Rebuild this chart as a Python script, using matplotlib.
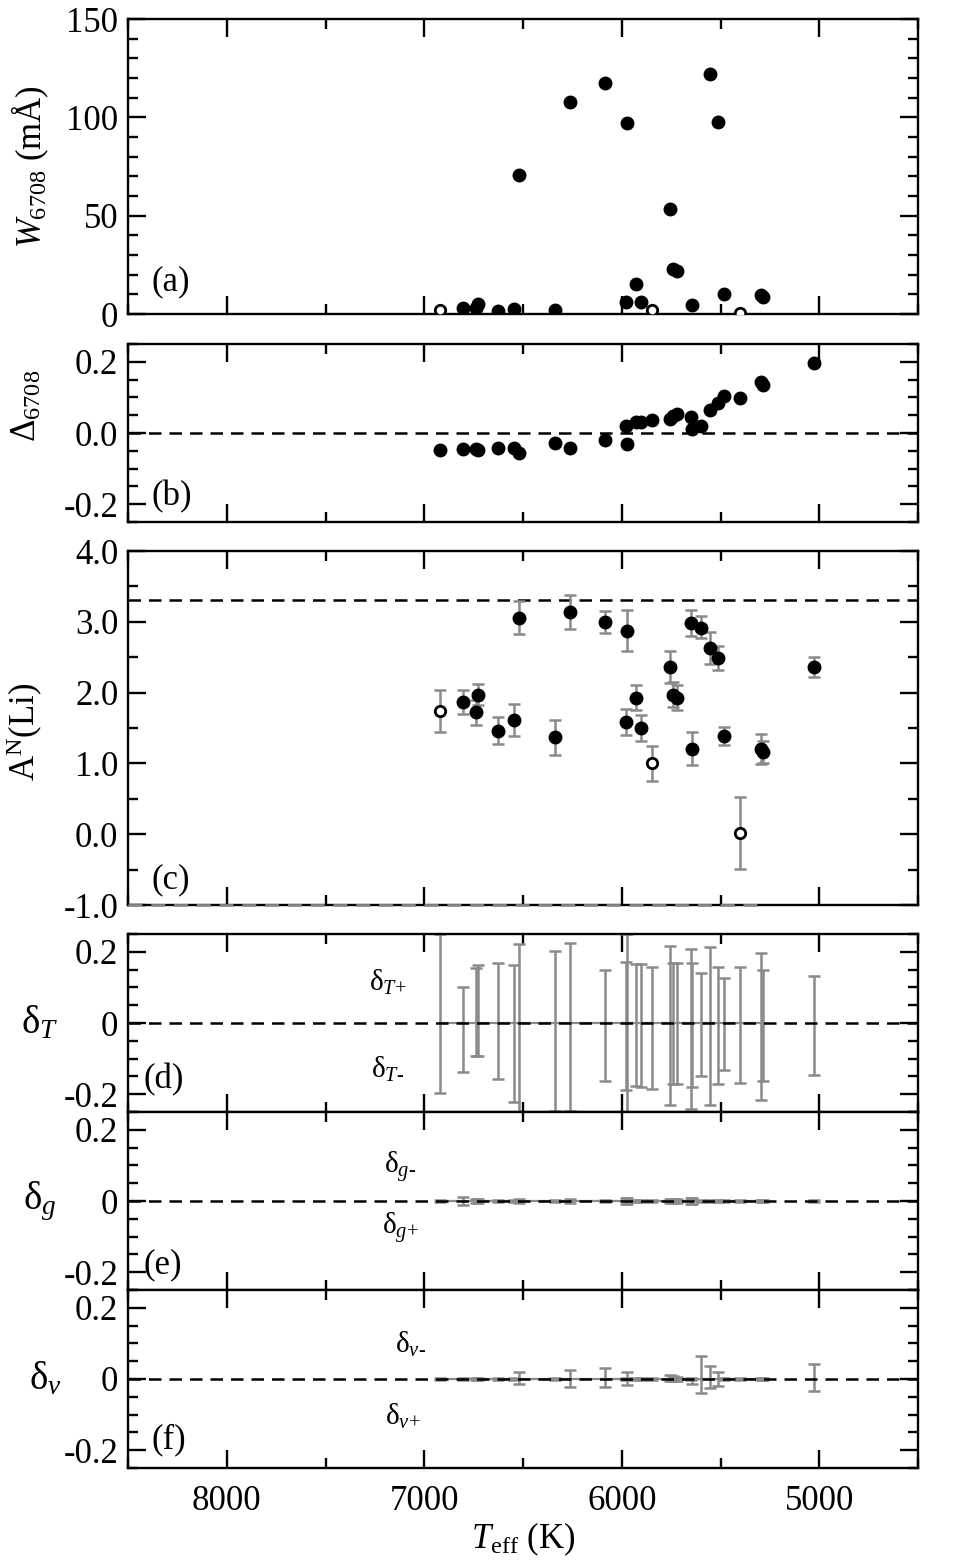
import numpy as np
import matplotlib
matplotlib.use("Agg")
import matplotlib.pyplot as plt
from matplotlib.ticker import MultipleLocator, FuncFormatter

plt.rcParams['font.family'] = 'Liberation Serif'
plt.rcParams['mathtext.fontset'] = 'custom'
plt.rcParams['mathtext.rm'] = 'Liberation Serif'
plt.rcParams['mathtext.it'] = 'Liberation Serif:italic'
plt.rcParams['mathtext.bf'] = 'Liberation Serif:bold'

#%% data (28 stars, hot -> cool)
teff = np.array([6922, 6802, 6738, 6728, 6626, 6548, 6519, 6340, 6260, 6083,
                 5978, 5972, 5928, 5903, 5848, 5755, 5743, 5719, 5650, 5647,
                 5597, 5555, 5512, 5483, 5400, 5293, 5284, 5028])
is_open = np.array([1, 0, 0, 0, 0, 0, 0, 0, 0, 0,
                    0, 0, 0, 0, 1, 0, 0, 0, 0, 0,
                    0, 0, 0, 0, 1, 0, 0, 0], dtype=bool)

# (a) equivalent width, nan = off scale
w6708 = np.array([2.0, 3.0, 2.9, 5.1, 1.7, 2.5, 70.6, 2.0, 108.0, 117.6,
                  6.3, 97.4, 15.1, 5.9, 1.9, 53.6, 22.7, 21.9, np.nan, 4.4,
                  np.nan, 122.3, 97.6, 10.0, 0.3, 9.8, 8.5, np.nan])

# (b) NLTE correction
delta6708 = np.array([-0.047, -0.046, -0.046, -0.047, -0.042, -0.042, -0.056, -0.028, -0.042, -0.020,
                      0.019, -0.032, 0.030, 0.031, 0.036, 0.040, 0.048, 0.054, 0.045, 0.011,
                      0.019, 0.066, 0.084, 0.104, 0.097, 0.142, 0.135, 0.196])

# (c) abundance with errors
a_li = np.array([1.74, 1.87, 1.72, 1.97, 1.46, 1.62, 3.06, 1.37, 3.14, 3.00,
                 1.59, 2.87, 1.93, 1.50, 1.00, 2.36, 1.97, 1.93, 2.98, 1.21,
                 2.92, 2.63, 2.49, 1.39, 0.02, 1.21, 1.16, 2.36])
a_up = np.array([0.30, 0.165, 0.174, 0.151, 0.193, 0.221, 0.240, 0.250, 0.240, 0.160,
                 0.184, 0.292, 0.174, 0.188, 0.245, 0.231, 0.174, 0.174, 0.184, 0.231,
                 0.160, 0.226, 0.165, 0.127, 0.508, 0.207, 0.151, 0.146])
a_lo = np.array([0.29, 0.174, 0.179, 0.141, 0.188, 0.226, 0.235, 0.250, 0.240, 0.160,
                 0.188, 0.282, 0.174, 0.184, 0.245, 0.217, 0.174, 0.169, 0.174, 0.231,
                 0.151, 0.226, 0.174, 0.132, 0.508, 0.212, 0.155, 0.146])
meteoritic = 3.31

# (d) Teff sensitivity
dT_plus = np.array([0.25, 0.100, 0.156, 0.162, 0.170, 0.163, 0.221, 0.202, 0.226, 0.150,
                    0.172, 0.25, 0.167, 0.165, 0.158, 0.217, 0.170, 0.170, 0.209, 0.170,
                    0.142, 0.213, 0.158, 0.126, 0.158, 0.198, 0.148, 0.131])
dT_minus = np.array([0.196, 0.138, 0.093, 0.092, 0.158, 0.221, 0.27, 0.247, 0.247, 0.164,
                     0.189, 0.27, 0.176, 0.179, 0.186, 0.229, 0.170, 0.172, 0.242, 0.179,
                     0.149, 0.229, 0.172, 0.133, 0.167, 0.217, 0.163, 0.145])

# (e) log g sensitivity
dg_minus = np.array([0.003, 0.012, 0.005, 0.005, 0.004, 0.004, 0.005, 0.004, 0.005, 0.004,
                     0.008, 0.008, 0.004, 0.004, 0.004, 0.005, 0.005, 0.005, 0.008, 0.008,
                     0.004, 0.004, 0.004, 0.003, 0.004, 0.004, 0.004, 0.004])
dg_plus = np.array([0.003, 0.012, 0.005, 0.005, 0.004, 0.004, 0.005, 0.004, 0.005, 0.004,
                    0.008, 0.008, 0.004, 0.004, 0.004, 0.005, 0.005, 0.005, 0.008, 0.008,
                    0.004, 0.004, 0.004, 0.003, 0.004, 0.004, 0.004, 0.004])

# (f) microturbulence sensitivity
dv_minus = np.array([0.002, 0.003, 0.003, 0.003, 0.003, 0.003, 0.019, 0.003, 0.025, 0.032,
                     0.004, 0.021, 0.003, 0.003, 0.003, 0.012, 0.008, 0.006, 0.003, 0.000,
                     0.064, 0.036, 0.021, 0.003, 0.003, 0.003, 0.003, 0.043])
dv_plus = np.array([0.002, 0.003, 0.003, 0.003, 0.003, 0.003, 0.013, 0.003, 0.022, 0.022,
                    0.004, 0.017, 0.003, 0.003, 0.003, 0.007, 0.005, 0.005, 0.003, 0.014,
                    0.039, 0.025, 0.021, 0.003, 0.003, 0.003, 0.003, 0.035])

#%% layout
FS = 25
GREY = '#8a8a8a'
DASH = (0, (5, 3.2))
fig = plt.figure(figsize=(9.59, 15.61), dpi=100)
left, width = 0.1335, 0.8238
boxes = [(0.7988, 0.1890), (0.6656, 0.1140), (0.4202, 0.2268),
         (0.2876, 0.1140), (0.1736, 0.1140), (0.0596, 0.1140)]
axes = [fig.add_axes([left, b, width, h]) for b, h in boxes]


def fmt1(v, pos):
    s = '%.1f' % v
    return '0.0' if s == '-0.0' else s


def fmt0(v, pos):
    return '0' if abs(v) < 1e-9 else '%.1f' % v


for ax in axes:
    ax.set_xlim(8500, 4500)
    ax.xaxis.set_major_locator(MultipleLocator(1000))
    ax.xaxis.set_minor_locator(MultipleLocator(500))
    ax.tick_params(which='both', direction='in', top=True, right=True,
                   width=1.7, labelsize=FS, pad=7)
    ax.tick_params(axis='x', which='both', pad=12)
    ax.tick_params(which='major', length=13)
    ax.tick_params(which='minor', length=7)
    for s in ax.spines.values():
        s.set_linewidth(1.7)
    if ax is not axes[-1]:
        ax.tick_params(labelbottom=False)


def scatter_stars(ax, y, mark_open=True):
    filled = ~is_open if mark_open else np.ones_like(is_open)
    ax.plot(teff[filled], y[filled], 'o', color='black', ms=9, zorder=4)
    if mark_open:
        ax.plot(teff[is_open], y[is_open], 'o', mfc='white', mec='black',
                mew=2, ms=7.5, zorder=4)


def ylab(ax, text, x, y, **kw):
    ax.set_ylabel(text, fontsize=FS, va='center', ha='center', **kw)
    ax.yaxis.set_label_coords(x, y)


# (a)
ax = axes[0]
scatter_stars(ax, w6708)
ax.set_ylim(0, 150)
ax.yaxis.set_major_locator(MultipleLocator(50))
ax.yaxis.set_minor_locator(MultipleLocator(10))
ylab(ax, r'$W_{\mathrm{6708}}$ (mÅ)', -0.124, 0.5)
ax.text(0.03, 0.11, '(a)', transform=ax.transAxes, fontsize=FS, va='center')

# (b)
ax = axes[1]
ax.axhline(0, color='black', lw=1.8, ls=DASH, zorder=1)
scatter_stars(ax, delta6708, mark_open=False)
ax.set_ylim(-0.25, 0.25)
ax.yaxis.set_major_locator(MultipleLocator(0.2))
ax.yaxis.set_minor_locator(MultipleLocator(0.05))
ax.yaxis.set_major_formatter(FuncFormatter(fmt1))
ylab(ax, r'$\Delta_{\mathrm{6708}}$', -0.128, 0.65)
ax.text(0.03, 0.14, '(b)', transform=ax.transAxes, fontsize=FS, va='center')

# (c)
ax = axes[2]
ax.axhline(meteoritic, color='black', lw=1.8, ls=DASH, zorder=1)
ax.errorbar(teff, a_li, yerr=[a_lo, a_up], fmt='none', ecolor=GREY,
            elinewidth=1.8, capsize=4.5, capthick=1.8, zorder=2)
scatter_stars(ax, a_li)
ax.plot([8500, teff[26]], [-1.0, -1.0], color=GREY, lw=2, ls=DASH,
        clip_on=False, zorder=6)
ax.set_ylim(-1.0, 4.0)
ax.yaxis.set_major_locator(MultipleLocator(1.0))
ax.yaxis.set_minor_locator(MultipleLocator(0.5))
ax.yaxis.set_major_formatter(FuncFormatter(fmt1))
ylab(ax, r'A$^{\mathrm{N}}$(Li)', -0.13, 0.49)
ax.text(0.03, 0.07, '(c)', transform=ax.transAxes, fontsize=FS, va='center')

# (d)-(f)
sens = [(axes[3], dT_minus, dT_plus, r'$\mathrm{δ}_{T}$', '(d)', 0.18, 0.02, -0.112,
         (7184, 0.115, r'$\mathrm{δ}_{T\text{+}}$'), (7184, -0.13, r'$\mathrm{δ}_{T\text{-}}$')),
        (axes[4], dg_plus, dg_minus, r'$\mathrm{δ}_{g}$', '(e)', 0.14, 0.02, -0.112,
         (7123, 0.093, r'$\mathrm{δ}_{g\text{-}}$'), (7123, -0.076, r'$\mathrm{δ}_{g\text{+}}$')),
        (axes[5], dv_plus, dv_minus, r'$\mathrm{δ}_{v}$', '(f)', 0.16, 0.03, -0.104,
         (7072, 0.098, r'$\mathrm{δ}_{v\text{-}}$'), (7110, -0.104, r'$\mathrm{δ}_{v\text{+}}$'))]

for ax, lo, up, lab, tag, ty, tx, lx, t1, t2 in sens:
    ax.plot([teff[0], teff[26]], [0, 0], color=GREY, lw=1.6, zorder=1)
    ax.errorbar(teff, np.zeros_like(teff, dtype=float), yerr=[lo, up], fmt='none',
                ecolor=GREY, elinewidth=1.8, capsize=4.5, capthick=1.8, zorder=2)
    ax.axhline(0, color='black', lw=1.8, ls=DASH, zorder=3)
    ax.set_ylim(-0.25, 0.25)
    ax.yaxis.set_major_locator(MultipleLocator(0.2))
    ax.yaxis.set_minor_locator(MultipleLocator(0.05))
    ax.yaxis.set_major_formatter(FuncFormatter(fmt0))
    ax.set_ylabel(lab, fontsize=FS + 3, rotation=0, va='center', ha='center')
    ax.yaxis.set_label_coords(lx, 0.5)
    ax.text(tx, ty, tag, transform=ax.transAxes, fontsize=FS, va='center')
    for x, y, s in (t1, t2):
        ax.text(x, y, s, fontsize=21, ha='center', va='center')

axes[-1].set_xlabel(r'$T_{\mathrm{eff}}$ (K)', fontsize=FS, labelpad=2)

fig.savefig('out.png', dpi=100)
